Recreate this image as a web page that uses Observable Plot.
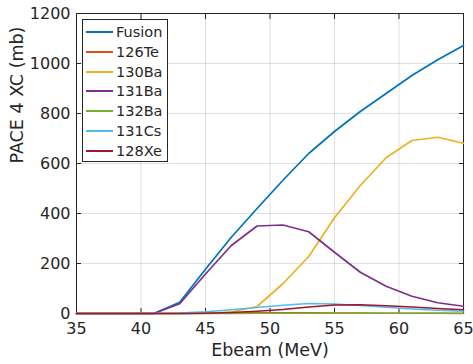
<!DOCTYPE html>
<html>
<head>
<meta charset="utf-8">
<script src="https://cdn.jsdelivr.net/npm/d3@7"></script>
<script src="https://cdn.jsdelivr.net/npm/@observablehq/plot@0.6"></script>
<style>
  html, body { margin: 0; padding: 0; background: #fff; }
  #wrap { position: relative; width: 473px; height: 364px; font-family: "DejaVu Sans", sans-serif; }
  #legend { position: absolute; left: 82px; top: 19px; width: 86px; height: 143px; border: 1px solid #262626; background: #fff; box-sizing: border-box; }
  .item { position: absolute; left: 0; height: 20px; display: flex; align-items: center; font-size: 14.5px; color: #262626; }
  .sw { width: 27px; height: 2px; margin-left: 3px; margin-right: 3px; }
</style>
</head>
<body>
<div id="wrap"><div id="chart"></div><div id="legend"></div></div>
<script>
const energy = [35, 37, 39, 41, 43, 45, 47, 49, 51, 53, 55, 57, 59, 61, 63, 65];
const seriesNames = ["Fusion", "126Te", "130Ba", "131Ba", "132Ba", "131Cs", "128Xe"];
const fusion = [0, 0, 0, 0, 45, 177, 305, 420, 533, 640, 728, 808, 880, 952, 1015, 1072];
const te126 = [0, 0, 0, 0, 0, 1, 2, 3, 3, 3, 2, 2, 1, 1, 1, 0];
const ba130 = [0, 0, 0, 0, 0, 1, 6, 28, 119, 228, 383, 512, 623, 692, 705, 681];
const ba131 = [0, 0, 0, 0, 39, 158, 272, 350, 354, 327, 245, 165, 109, 69, 43, 29];
const ba132 = [0, 0, 0, 0, 0, 0, 0, 1, 1, 1, 1, 1, 1, 1, 1, 1];
const cs131 = [0, 0, 0, 0, 2, 7, 15, 24, 33, 40, 38, 32, 25, 18, 13, 9];
const xe128 = [0, 0, 0, 0, 0, 1, 4, 9, 16, 26, 34, 35, 31, 26, 20, 15];
const colors = ["#0072BD", "#D95319", "#EDB120", "#7E2F8E", "#77AC30", "#4DBEEE", "#A2142F"];
const xTicks = [35, 40, 45, 50, 55, 60, 65];
const yTicks = [0, 200, 400, 600, 800, 1000, 1200];

const allSeries = [fusion, te126, ba130, ba131, ba132, cs131, xe128];
const rows = [];
allSeries.forEach((vals, si) => vals.forEach((v, i) => rows.push({E: energy[i], xc: v, s: seriesNames[si]})));

const ink = "#262626";
const fmt = d3.format("d");
const chart = Plot.plot({
  width: 473,
  height: 364,
  marginLeft: 76,
  marginRight: 10,
  marginTop: 13,
  marginBottom: 51,
  style: {fontFamily: "DejaVu Sans, sans-serif", fontSize: "16px", color: ink, background: "#fff"},
  x: {domain: [35, 65]},
  y: {domain: [0, 1200]},
  color: {domain: seriesNames, range: colors},
  marks: [
    Plot.gridX(xTicks, {stroke: "#000", strokeOpacity: 0.12}),
    Plot.gridY(yTicks, {stroke: "#000", strokeOpacity: 0.12}),
    Plot.frame({stroke: ink, strokeWidth: 1}),
    Plot.axisX(xTicks, {anchor: "bottom", tickSize: -5, tickPadding: 14, tickFormat: fmt, stroke: ink, fill: ink, label: null, fontSize: 16}),
    Plot.axisX(xTicks, {anchor: "top", tickSize: -5, tickFormat: () => "", stroke: ink, label: null}),
    Plot.axisY(yTicks, {anchor: "left", tickSize: -5, tickPadding: 11, tickFormat: fmt, stroke: ink, fill: ink, label: null, fontSize: 16}),
    Plot.axisY(yTicks, {anchor: "right", tickSize: -5, tickFormat: () => "", stroke: ink, label: null}),
    Plot.line(rows, {x: "E", y: "xc", z: "s", stroke: "s", strokeWidth: 1.7}),
    Plot.text(["Ebeam (MeV)"], {frameAnchor: "bottom", dy: 42, fontSize: 17.5, fill: ink}),
    Plot.text(["PACE 4 XC (mb)"], {frameAnchor: "left", dx: -59, rotate: -90, fontSize: 17.5, fill: ink})
  ]
});
document.getElementById("chart").appendChild(chart);

const legend = document.getElementById("legend");
seriesNames.forEach((name, i) => {
  const d = document.createElement("div");
  d.className = "item";
  d.style.top = (2 + i * 19.8) + "px";
  const sw = document.createElement("span");
  sw.className = "sw";
  sw.style.background = colors[i];
  const t = document.createElement("span");
  t.textContent = name;
  d.appendChild(sw); d.appendChild(t);
  legend.appendChild(d);
});
</script>
</body>
</html>
